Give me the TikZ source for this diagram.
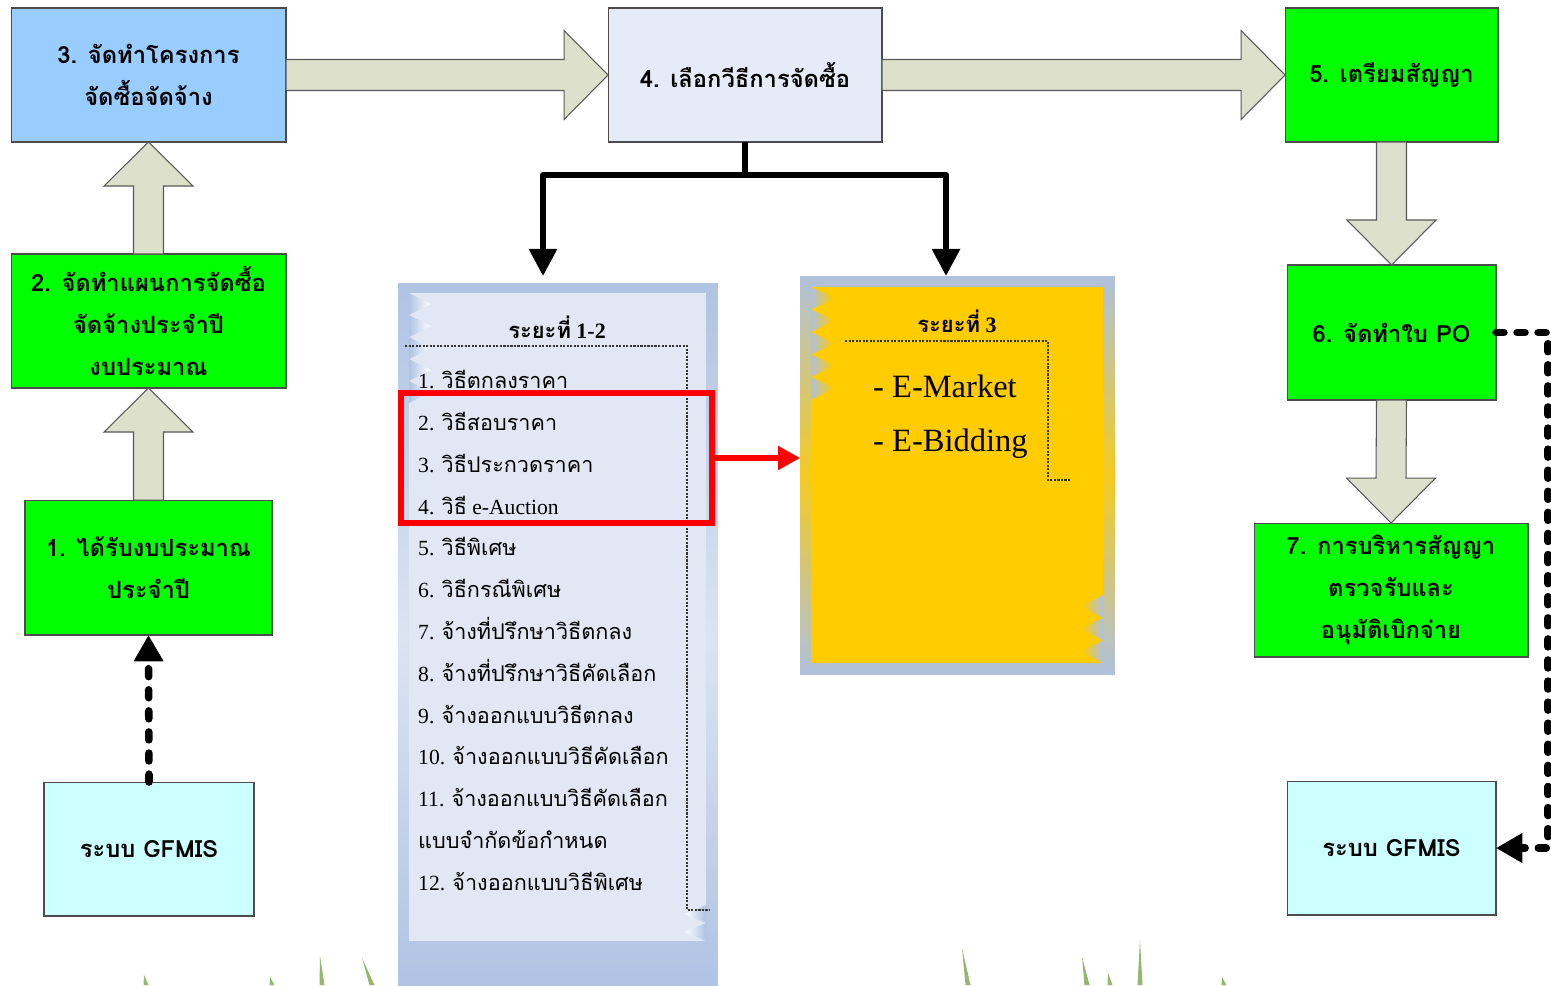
\documentclass[tikz,border=0pt]{standalone}
\usepackage{fontspec}
\setmainfont{Liberation Serif}
\newfontfamily\thaifont[Script=Thai]{Loma}
\usepackage{tikz}
\usetikzlibrary{arrows.meta,calc,positioning}
\definecolor{boxblue}{HTML}{99CCFF}
\definecolor{boxlav}{HTML}{E6ECF7}
\definecolor{boxgreen}{HTML}{00FF00}
\definecolor{boxcyan}{HTML}{CCFFFF}
\definecolor{arrfill}{HTML}{DDE0CB}
\definecolor{frameblue}{HTML}{AFC3E3}
\definecolor{paleblue}{HTML}{E1E8F4}
\definecolor{framegold}{HTML}{AFC1DC}
\definecolor{gold}{HTML}{FFCC00}
\definecolor{blade}{HTML}{6FA03C}

\begin{document}
\begin{tikzpicture}[x=0.02cm,y=-0.02cm,
  box/.style={draw=black!70,line width=0.6pt,inner sep=0pt,outer sep=0pt,align=center,
    font=\thaifont\bfseries\fontsize{13.5}{23.8}\selectfont},
  blockarr/.style={fill=arrfill,draw=black!65,line width=0.6pt},
  tree/.style={line width=3.4pt,line join=round,-{Triangle[width=15.5pt,length=15.5pt]}},
  redarr/.style={red,line width=3pt,-{Triangle[width=13pt,length=12.5pt]}},
  gfline/.style={line width=4.3pt,line cap=round,dash pattern=on 4.5pt off 7.5pt,-{Triangle[width=16pt,length=15pt]}},
  note/.style={draw=black!80,line width=0.6pt,dash pattern=on 1.2pt off 0.8pt},
  grass/.style={fill=blade,opacity=0.75}]
\path[use as bounding box,fill=white] (0,0) rectangle (1551,985);

% grass
\foreach \x/\tx/\ty in {146/144/975,272/270/977,322/320/956,372/362/958,968/962/948,1087/1082/957,1110/1108/973,1140/1140/940,1224/1222/977}
  \fill[grass] (\x-2.5,985) -- (\tx,\ty) -- (\x+2.5,985) -- cycle;

% panels
\node[inner sep=0pt,outer sep=0pt,minimum width=6.4cm,minimum height=14.14cm,
  top color=frameblue,bottom color=frameblue,middle color=frameblue!45] (p12) at (558,636.5) {};
\fill[paleblue] (409,293) rectangle (706,941);
\foreach \i in {0,...,4}
  \shade[left color=frameblue,right color=white] (409,293+22*\i) -- (431,304+22*\i) -- (409,315+22*\i) -- cycle;
\foreach \i in {0,1}
  \shade[left color=white,right color=frameblue] (706,905+18*\i) -- (684,914+18*\i) -- (706,923+18*\i) -- cycle;
\draw[note] (405,346) -- (687,346) -- (687,910) -- (710,910);
\node[font=\bfseries\fontsize{12.5}{14}\selectfont] (t12) at (557,327) {{\thaifont ระยะที่} 1-2};
\node[anchor=west,align=left,font=\fontsize{12.3}{23.8}\selectfont] (list) at (412,630.5)
  {1. {\thaifont วิธีตกลงราคา}\\
   2. {\thaifont วิธีสอบราคา}\\
   3. {\thaifont วิธีประกวดราคา}\\
   4. {\thaifont วิธี} e-Auction\\
   5. {\thaifont วิธีพิเศษ}\\
   6. {\thaifont วิธีกรณีพิเศษ}\\
   7. {\thaifont จ้างที่ปรึกษาวิธีตกลง}\\
   8. {\thaifont จ้างที่ปรึกษาวิธีคัดเลือก}\\
   9. {\thaifont จ้างออกแบบวิธีตกลง}\\
   10. {\thaifont จ้างออกแบบวิธีคัดเลือก}\\
   11. {\thaifont จ้างออกแบบวิธีคัดเลือก}\\
   {\thaifont แบบจำกัดข้อกำหนด}\\
   12. {\thaifont จ้างออกแบบวิธีพิเศษ}};
\node[draw=red,line width=3.2pt,inner sep=0pt,minimum width=6.22cm,minimum height=2.6cm] (sel) at (556.5,458) {};

\node[inner sep=0pt,outer sep=0pt,minimum width=6.3cm,minimum height=7.98cm,
  top color=framegold,bottom color=framegold,middle color=gold!85!framegold] (p3) at (957.5,475.5) {};
\fill[gold] (811,287) rectangle (1103,663);
\foreach \i in {0,...,4}
  \shade[left color=framegold,right color=gold] (811,287+22.5*\i) -- (834,298+22.5*\i) -- (811,309.5+22.5*\i) -- cycle;
\foreach \i in {0,1,2}
  \shade[left color=gold,right color=framegold] (1103,595+22.7*\i) -- (1081,606+22.7*\i) -- (1103,617.7+22.7*\i) -- cycle;
\draw[note] (845,341) -- (1048,341) -- (1048,480) -- (1070,480);
\node[font=\bfseries\fontsize{12.5}{14}\selectfont] (t3) at (957,321) {{\thaifont ระยะที่} 3};
\node[anchor=west,font=\fontsize{18.5}{22}\selectfont] (em) at (867,386) {- E-Market};
\node[anchor=west,font=\fontsize{18.5}{22}\selectfont] (eb) at (867,444) {- E-Bidding};

% boxes
\node[box,fill=boxblue,minimum width=5.5cm,minimum height=2.68cm] (b3) at (148.5,75) {3. จัดทำโครงการ\\จัดซื้อจัดจ้าง};
\node[box,fill=boxlav,minimum width=5.48cm,minimum height=2.68cm] (b4) at (745,75) {4. เลือกวีธีการจัดซื้อ};
\node[box,fill=boxgreen,minimum width=4.26cm,minimum height=2.68cm] (b5) at (1391.5,75) {5. เตรียมสัญญา};
\node[box,fill=boxgreen,minimum width=4.18cm,minimum height=2.7cm] (b6) at (1391.5,332.5) {6. จัดทำใบ PO};
\node[box,fill=boxgreen,minimum width=5.48cm,minimum height=2.68cm] (b7) at (1391,590) {7. การบริหารสัญญา\\ตรวจรับและ\\อนุมัติเบิกจ่าย};
\node[box,fill=boxcyan,minimum width=4.18cm,minimum height=2.68cm] (g2) at (1391.5,848) {ระบบ GFMIS};
\node[box,fill=boxgreen,minimum width=5.5cm,minimum height=2.68cm] (b2) at (148.5,321) {2. จัดทำแผนการจัดซื้อ\\จัดจ้างประจำปี\\งบประมาณ};
\node[box,fill=boxgreen,minimum width=4.94cm,minimum height=2.7cm] (b1) at (148.5,567.5) {1. ได้รับงบประมาณ\\ประจำปี};
\node[box,fill=boxcyan,minimum width=4.2cm,minimum height=2.68cm] (g1) at (149,849) {ระบบ GFMIS};

% block arrows
\foreach \a/\b in {b3/b4,b4/b5}
  \draw[blockarr] ($(\a.east)+(0,-15.5)$) -- ($(\b.west)+(-44,-15.5)$) -- ($(\b.west)+(-44,-44.5)$) -- (\b.west)
    -- ($(\b.west)+(-44,44.5)$) -- ($(\b.west)+(-44,15.5)$) -- ($(\a.east)+(0,15.5)$) -- cycle;
\foreach \a/\b in {b1/b2,b2/b3}
  \draw[blockarr] ($(\a.north)+(-15,0)$) -- ($(\b.south)+(-15,44)$) -- ($(\b.south)+(-44.5,44)$) -- (\b.south)
    -- ($(\b.south)+(44.5,44)$) -- ($(\b.south)+(15,44)$) -- ($(\a.north)+(15,0)$) -- cycle;
\foreach \a/\b in {b5/b6,b6/b7}
  \draw[blockarr] ($(\a.south)+(-15,0)$) -- ($(\b.north)+(-15,-45)$) -- ($(\b.north)+(-44.5,-45)$) -- (\b.north)
    -- ($(\b.north)+(44.5,-45)$) -- ($(\b.north)+(15,-45)$) -- ($(\a.south)+(15,0)$) -- cycle;

% connectors
\coordinate (t1) at (543,276);
\coordinate (t2) at (946,276);
\draw[tree] (b4.south) -- ++(0,33) coordinate (fork) -| (t1);
\draw[tree] (fork) -| (t2);
\draw[redarr] (sel.east) -- (sel.east -| p3.west);
\draw[gfline] (g1.north) -- (b1.south);
\draw[gfline] (b6.east) -- ++(52,0) |- (g2.east);
\end{tikzpicture}
\end{document}
